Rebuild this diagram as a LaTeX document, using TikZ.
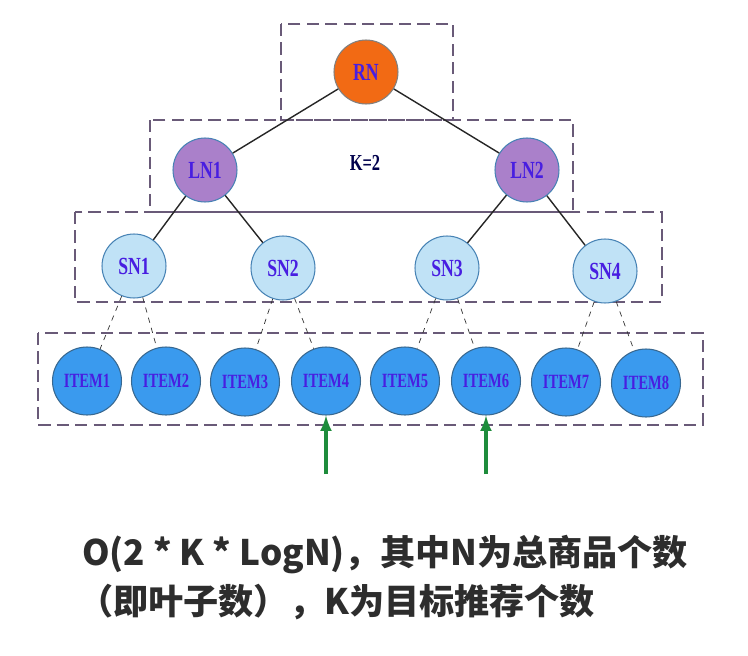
\documentclass[tikz,border=0pt]{standalone}
\usepackage{fontspec}
\usetikzlibrary{shapes.geometric}
\setmainfont{Liberation Serif}
\newfontfamily\nodefont{Liberation Serif}[FakeStretch=0.72]
\newfontfamily\cjk{Noto Sans CJK SC}
\definecolor{rnorange}{RGB}{242, 106, 20}
\definecolor{lnpurple}{RGB}{170, 128, 202}
\definecolor{snlight}{RGB}{192, 226, 246}
\definecolor{itemblue}{RGB}{58, 154, 238}
\definecolor{edgeblue}{RGB}{70, 130, 180}
\definecolor{framegray}{RGB}{105, 90, 120}
\definecolor{labelblue}{RGB}{72, 30, 225}
\definecolor{arrowgreen}{RGB}{30, 140, 60}
\definecolor{textgray}{RGB}{45, 45, 45}

\begin{document}
\begin{tikzpicture}[x=0.02cm, y=-0.02cm,
    treenode/.style={circle, draw=edgeblue, line width=0.6pt, minimum size=1.28cm, inner sep=0pt, font=\nodefont\bfseries\fontsize{14}{16}\selectfont, text=labelblue},
    itemnode/.style={ellipse, draw=edgeblue!80!black, line width=0.6pt, fill=itemblue, minimum width=1.38cm, minimum height=1.36cm, inner sep=0pt, font=\nodefont\bfseries\fontsize{11.5}{13}\selectfont, text=labelblue},
    frame/.style={draw=framegray, line width=1.5pt, dash pattern=on 7pt off 3.5pt},
    edge/.style={thick, black!85},
    leaf/.style={dashed, black!80},
    uparrow/.style={-latex, line width=2pt, color=arrowgreen}
  ]
    \useasboundingbox (0,0) rectangle (748,656);

    % level frames
    \draw[frame] (281,24) rectangle (453,120);
    \draw[frame] (150,120) rectangle (573,212);
    \draw[frame] (75,212) rectangle (662,302);
    \draw[frame] (38,333) rectangle (703,425);

    \node[treenode, fill=rnorange, draw=gray] (rn) at (366,72) {RN};
    \node[treenode, fill=lnpurple] (ln1) at (205,170) {LN1};
    \node[treenode, fill=lnpurple] (ln2) at (527,170) {LN2};
    \node[font=\nodefont\bfseries\fontsize{13}{15}\selectfont, text=black!70!blue] (k) at (365,163) {K=2};

    \node[treenode, fill=snlight] (sn1) at (134,266) {SN1};
    \node[treenode, fill=snlight] (sn2) at (283,268) {SN2};
    \node[treenode, fill=snlight] (sn3) at (447,268) {SN3};
    \node[treenode, fill=snlight] (sn4) at (605,271) {SN4};

    \node[itemnode] (item1) at (87,381) {ITEM1};
    \node[itemnode] (item2) at (166,381) {ITEM2};
    \node[itemnode] (item3) at (245,382) {ITEM3};
    \node[itemnode] (item4) at (326,381) {ITEM4};
    \node[itemnode] (item5) at (405,381) {ITEM5};
    \node[itemnode] (item6) at (486,381) {ITEM6};
    \node[itemnode] (item7) at (566,382) {ITEM7};
    \node[itemnode] (item8) at (646,383) {ITEM8};

    \draw[edge] (rn) -- (ln1);
    \draw[edge] (rn) -- (ln2);
    \draw[edge] (ln1) -- (sn1);
    \draw[edge] (ln1) -- (sn2);
    \draw[edge] (ln2) -- (sn3);
    \draw[edge] (ln2) -- (sn4);

    \draw[leaf] (sn1) -- (item1);
    \draw[leaf] (sn1) -- (item2);
    \draw[leaf] (sn2) -- (item3);
    \draw[leaf] (sn2) -- (item4);
    \draw[leaf] (sn3) -- (item5);
    \draw[leaf] (sn3) -- (item6);
    \draw[leaf] (sn4) -- (item7);
    \draw[leaf] (sn4) -- (item8);

    % hit leaves
    \coordinate (hit4) at (326,474);
    \coordinate (hit6) at (486,474);
    \draw[uparrow] (hit4) -- (item4);
    \draw[uparrow] (hit6) -- (item6);

    \node[anchor=west, font=\cjk\bfseries\fontsize{20}{24}\selectfont, text=textgray] (cost) at (76,555) {O(2 * K * LogN)，其中N为总商品个数};
    \node[anchor=west, font=\cjk\bfseries\fontsize{20}{24}\selectfont, text=textgray] (note) at (72,602) {（即叶子数），K为目标推荐个数};
  \end{tikzpicture}
\end{document}
